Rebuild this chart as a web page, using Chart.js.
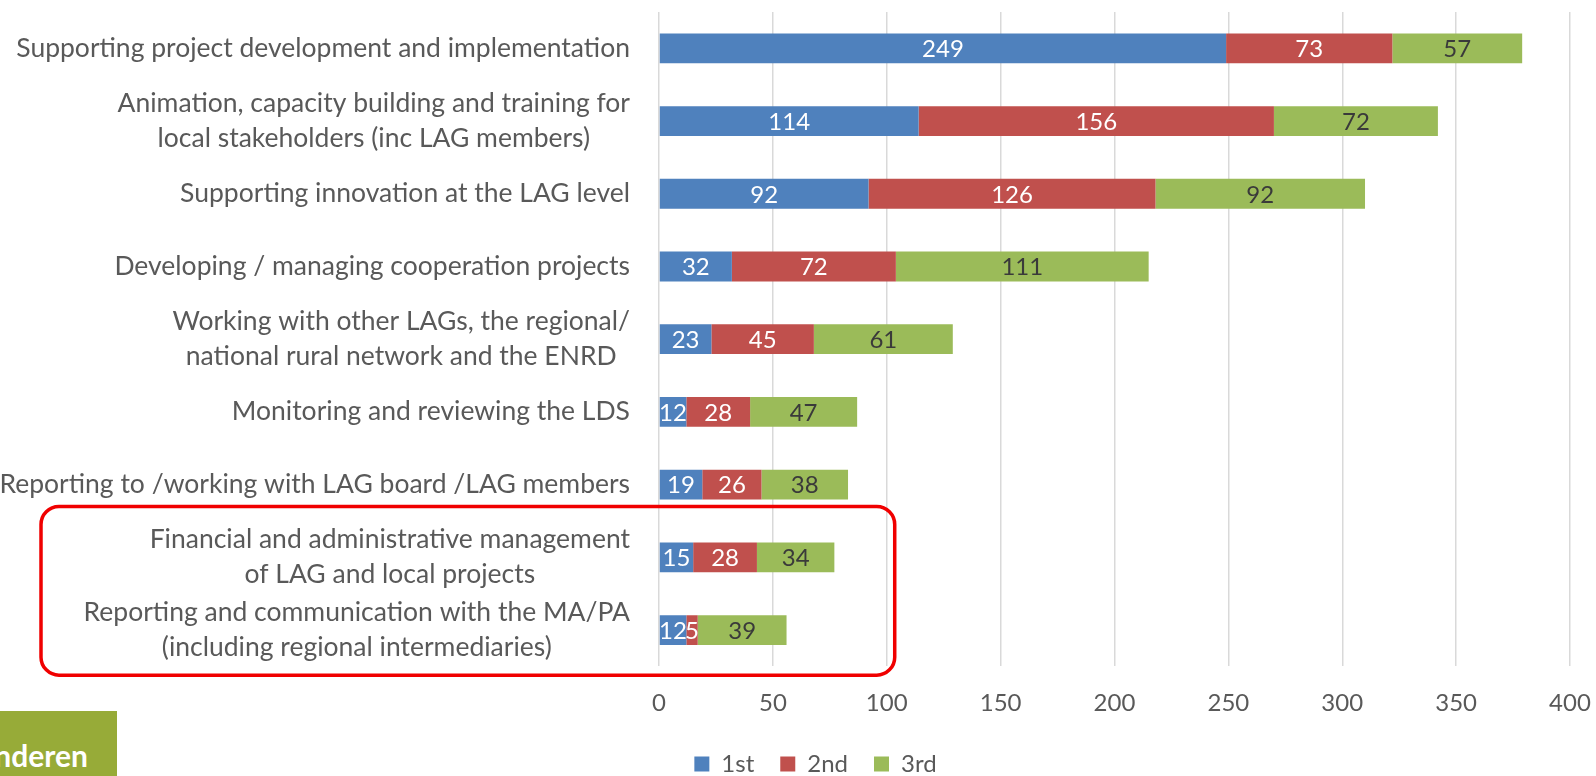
<!DOCTYPE html>
<html lang="en"><head><meta charset="UTF-8">
<title>LAG tasks ranking</title>
<script src="https://cdn.jsdelivr.net/npm/chart.js@4.4.1/dist/chart.umd.min.js"></script>
<style>
*{box-sizing:border-box;margin:0;padding:0;}
body{background:#fff;width:1596px;height:776px;overflow:hidden;position:relative;font-family:Lato,'Open Sans',sans-serif;}
/* canvas a bit taller than the window so the legend sits where the original has it */
#wrap{position:absolute;left:0;top:0;width:1596px;height:786px;}
.logo{position:absolute;left:0;top:711px;width:117px;height:65px;background:#97AB38;overflow:hidden;}
.logo span{position:absolute;right:29px;top:29px;line-height:1;color:#fff;font-size:30px;font-weight:700;white-space:nowrap;font-family:Lato,sans-serif;}
</style></head>
<body>
<div id="wrap"><canvas id="c"></canvas></div>
<div class="logo"><span>Vlaanderen</span></div>
<script>
// ── data ──
const categories = [
  'Supporting project development and implementation',
  ['Animation, capacity building and training for', 'local stakeholders (inc LAG members)'],
  'Supporting innovation at the LAG level',
  'Developing / managing cooperation projects',
  ['Working with other LAGs, the regional/', 'national rural network and the ENRD'],
  'Monitoring and reviewing the LDS',
  'Reporting to /working with LAG board /LAG members',
  ['Financial and administrative management', 'of LAG and local projects'],
  ['Reporting and communication with the MA/PA', '(including regional intermediaries)']
];
const seriesNames = ['1st', '2nd', '3rd'];
const first  = [249, 114, 92, 32, 23, 12, 19, 15, 12];
const second = [73, 156, 126, 72, 45, 28, 26, 28, 5];
const third  = [57, 72, 92, 111, 61, 47, 38, 34, 39];
const xTicks = [0, 50, 100, 150, 200, 250, 300, 350, 400];

const COLORS = ['#4F81BD', '#C0504D', '#9BBB59'];
const LABEL_COLORS = ['#FFFFFF', '#FFFFFF', '#3A3A3A'];
const TXT = '#595959';
const FONT = 'Lato, "Open Sans", sans-serif';

// value labels centred in each segment
const valueLabels = {
  id: 'valueLabels',
  afterDatasetsDraw(chart) {
    const ctx = chart.ctx;
    ctx.save();
    ctx.font = '24px ' + FONT;
    ctx.textAlign = 'center';
    ctx.textBaseline = 'middle';
    chart.data.datasets.forEach((ds, di) => {
      chart.getDatasetMeta(di).data.forEach((bar, i) => {
        ctx.fillStyle = LABEL_COLORS[di];
        ctx.fillText(String(ds.data[i]), (bar.x + bar.base) / 2, bar.y + 1);
      });
    });
    ctx.restore();
  }
};

// category labels: block right aligned, lines centred in the block
const catLabels = {
  id: 'catLabels',
  afterDraw(chart) {
    const ctx = chart.ctx, ys = chart.scales.y, area = chart.chartArea;
    const right = area.left - 29, lh = 35;
    ctx.save();
    ctx.font = '26.5px ' + FONT;
    ctx.fillStyle = TXT;
    ctx.textBaseline = 'middle';
    ctx.textAlign = 'center';
    categories.forEach((c, i) => {
      const lines = Array.isArray(c) ? c : [c];
      const w = Math.max(...lines.map(l => ctx.measureText(l).width));
      const cy = ys.getPixelForTick(i);
      const y0 = cy - (lines.length - 1) * lh / 2;
      lines.forEach((l, k) => ctx.fillText(l, right - w / 2, y0 + k * lh));
    });
    ctx.restore();
  }
};

// red rounded box around the last two categories
const highlight = {
  id: 'highlight',
  afterDraw(chart) {
    const ctx = chart.ctx, ys = chart.scales.y, xs = chart.scales.x;
    const band = ys.getPixelForTick(1) - ys.getPixelForTick(0);
    const top = ys.getPixelForTick(7) - band * 0.70;
    const bot = ys.getPixelForTick(8) + band * 0.62;
    const left = 41, right = xs.getPixelForValue(103.5);
    ctx.save();
    ctx.strokeStyle = '#F00000';
    ctx.lineWidth = 3.5;
    ctx.beginPath();
    ctx.roundRect(left, top, right - left, bot - top, 18);
    ctx.stroke();
    ctx.restore();
  }
};

new Chart(document.getElementById('c'), {
  type: 'bar',
  data: {
    labels: categories,
    datasets: [first, second, third].map((d, i) => ({
      label: seriesNames[i],
      data: d,
      backgroundColor: COLORS[i],
      barPercentage: 0.82,
      categoryPercentage: 0.5
    }))
  },
  options: {
    indexAxis: 'y',
    responsive: true,
    maintainAspectRatio: false,
    animation: false,
    layout: { padding: { top: 12, right: 5, left: 40, bottom: 0 } },
    scales: {
      x: {
        stacked: true,
        min: 0, max: 400,
        afterBuildTicks(s) { s.ticks = xTicks.map(v => ({ value: v })); },
        grid: { color: '#D9D9D9', lineWidth: 1.5, drawTicks: false },
        border: { display: false },
        ticks: { color: TXT, font: { family: FONT, size: 24 }, padding: 22 },
        afterFit(s) { s.height = 59.6; s.paddingRight = 26; s.paddingLeft = 0; }
      },
      y: {
        stacked: true,
        grid: { display: false },
        border: { display: false },
        ticks: { display: false },
        afterFit(s) { s.width = 619; }
      }
    },
    plugins: {
      legend: {
        position: 'bottom',
        labels: { color: TXT, font: { family: FONT, size: 24 }, boxWidth: 15, boxHeight: 15, padding: 26 }
      },
      tooltip: { enabled: false }
    }
  },
  plugins: [valueLabels, catLabels, highlight]
});
</script>
</body></html>
